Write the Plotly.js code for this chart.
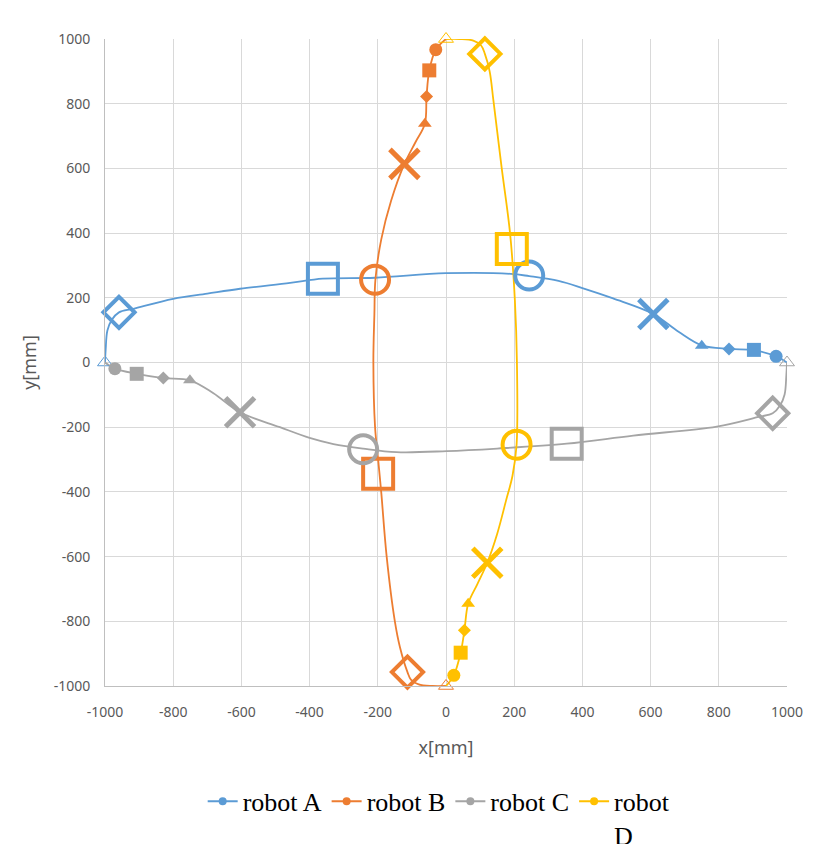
<!DOCTYPE html>
<html>
<head>
<meta charset="utf-8">
<script src="https://cdn.plot.ly/plotly-3.0.1.min.js"></script>
<style>
  html, body { margin: 0; padding: 0; background: #fff; }
  #chart { width: 828px; height: 844px; }
</style>
</head>
<body>
<div id="chart"></div>
<script>
// robot names (legend)
var robotNames = ["robot A", "robot B", "robot C", "robot<br>D"];

// axis ticks
var tickVals = [-1000, -800, -600, -400, -200, 0, 200, 400, 600, 800, 1000];
var tickText = ["-1000", "-800", "-600", "-400", "-200", "0", "200", "400", "600", "800", "1000"];

// trajectory of each robot (mm)
var pathAx = [-1000, -998, -993, -980, -959, -917, -800, -700, -604, -457, -361, -208, 0, 190, 244, 330, 400, 490, 608, 682, 750, 830, 903, 968, 1000];
var pathAy = [0, 40, 99, 132, 155, 166, 197, 213, 228, 246, 259, 262, 276, 274, 267, 252, 230, 198, 150, 95, 53, 42, 38, 19, 0];

var pathBx = [0, -40, -80, -103, -113, -135, -150, -174, -190, -199, -208, -213, -210, -207, -190, -161, -122, -90, -62, -57, -49, -30, 0];
var pathBy = [-1000, -1000, -995, -980, -957, -880, -800, -600, -400, -300, -200, 0, 150, 256, 380, 500, 614, 680, 738, 822, 903, 967, 1000];

var pathCx = [1000, 998, 993, 980, 958, 917, 794, 549, 354, 150, 2, -145, -243, -330, -400, -487, -604, -682, -751, -829, -907, -971, -1000];
var pathCy = [0, -40, -99, -132, -157, -168, -198, -226, -251, -266, -274, -277, -266, -252, -233, -200, -154, -95, -55, -48, -35, -19, 0];

var pathDx = [0, 40, 80, 103, 114, 128, 139, 163, 188, 202, 208, 207, 195, 176, 150, 121, 92, 65, 54, 43, 23, 0];
var pathDy = [1000, 1000, 995, 980, 954, 900, 810, 604, 398, 192, 0, -254, -350, -427, -530, -619, -685, -746, -828, -897, -967, -1000];

// marked positions: start, then the time steps (diamond, square, circle, x, triangle, diamond, square, circle)
var markAx = [-1000, -959, -361, 244, 608, 750, 830, 903, 968];
var markAy = [0, 155, 259, 269, 150, 52, 42, 39, 19];
var markBx = [0, -113, -199, -208, -122, -62, -57, -49, -30];
var markBy = [-1000, -957, -344, 256, 614, 738, 822, 903, 967];
var markCx = [1000, 958, 354, -243, -604, -751, -829, -907, -971];
var markCy = [0, -157, -251, -268, -154, -55, -48, -35, -19];
var markDx = [0, 114, 193, 207, 121, 65, 54, 43, 23];
var markDy = [1000, 954, 351, -254, -619, -746, -828, -897, -967];

var colors = ['#5B9BD5', '#ED7D31', '#A5A5A5', '#FFC000'];
var symbols = ['triangle-up-open', 'diamond-open', 'square-open', 'circle-open', 'x-thin-open',
               'triangle-up', 'diamond', 'square', 'circle'];
var sizes = [13, 24, 30, 28, 29, 12, 10, 14, 13];
var widths = [1, 4, 4, 4, 5, 0, 0, 0, 0];

var paths = [[pathAx, pathAy], [pathBx, pathBy], [pathCx, pathCy], [pathDx, pathDy]];
var marks = [[markAx, markAy], [markBx, markBy], [markCx, markCy], [markDx, markDy]];

var data = [];
for (var i = 0; i < 4; i++) {
  data.push({
    x: paths[i][0], y: paths[i][1],
    mode: 'lines', type: 'scatter',
    line: {color: colors[i], width: 1.8, shape: 'spline', smoothing: 1},
    showlegend: false, hoverinfo: 'skip'
  });
}
for (var i = 0; i < 4; i++) {
  data.push({
    x: marks[i][0], y: marks[i][1],
    mode: 'markers', type: 'scatter',
    cliponaxis: false,
    marker: {color: colors[i], symbol: symbols, size: sizes, opacity: 1,
             line: {color: colors[i], width: widths}},
    showlegend: false
  });
}
// legend entries
for (var i = 0; i < 4; i++) {
  data.push({
    x: [null], y: [null],
    mode: 'lines+markers', type: 'scatter',
    name: robotNames[i],
    line: {color: colors[i], width: 2},
    marker: {color: colors[i], size: 8}
  });
}

var tickFont = {family: 'Noto Sans', size: 14, color: '#595959'};
var titleFont = {family: 'Noto Sans', size: 18, color: '#595959'};
var layout = {
  width: 828,
  height: 844,
  margin: {l: 105, r: 41, t: 39, b: 158, autoexpand: false},
  paper_bgcolor: '#fff',
  plot_bgcolor: '#fff',
  showlegend: true,
  legend: {
    orientation: 'h',
    x: 0.49, xanchor: 'center',
    y: -0.142, yanchor: 'top',
    valign: 'top',
    font: {family: 'Liberation Serif', size: 26, color: '#000'},
    itemwidth: 30,
    tracegroupgap: 0
  },
  xaxis: {
    range: [-1000, 1000],
    tickvals: tickVals,
    ticktext: tickText,
    tickfont: tickFont,
    ticks: '',
    ticklabelstandoff: 13,
    gridcolor: '#D9D9D9',
    zeroline: false,
    showline: true,
    linecolor: '#BFBFBF',
    title: {text: 'x[mm]', font: titleFont, standoff: 21}
  },
  yaxis: {
    range: [-1000, 1000],
    tickvals: tickVals,
    ticktext: tickText,
    tickfont: tickFont,
    ticks: '',
    ticklabelstandoff: 11,
    gridcolor: '#D9D9D9',
    zeroline: false,
    showline: true,
    linecolor: '#BFBFBF',
    title: {text: 'y[mm]', font: titleFont, standoff: 12}
  }
};

Plotly.newPlot('chart', data, layout, {displayModeBar: false, staticPlot: true});
</script>
</body>
</html>
